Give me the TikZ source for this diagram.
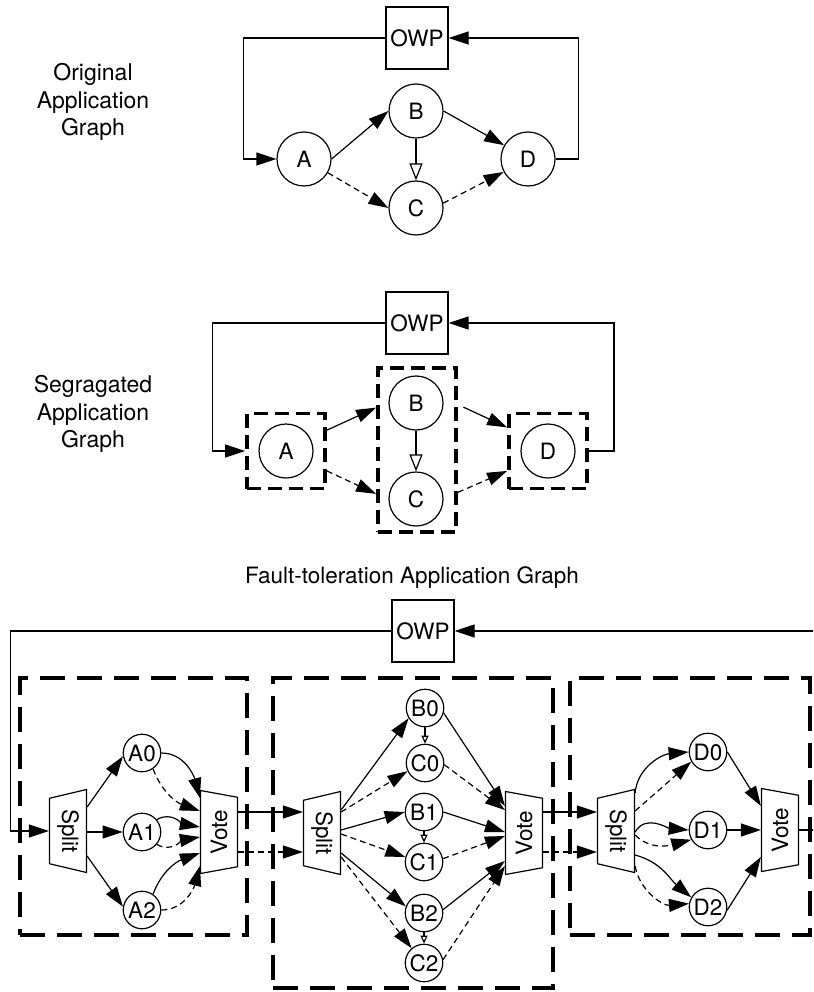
\documentclass[tikz,border=0pt]{standalone}
\usepackage{fontspec}
\setmainfont{TeX Gyre Heros}
\usetikzlibrary{arrows.meta,shapes.geometric}

\begin{document}
\begin{tikzpicture}[x=1pt,y=1pt,line width=1.2pt,font=\fontsize{22.5}{27.5}\selectfont]
	\tikzstyle{every node}+=[inner sep=0pt]
	\tikzstyle{arr}=[-{Triangle[length=20pt,width=13pt]}]
	\tikzstyle{darr}=[arr,dash pattern=on 6pt off 4pt]
	\tikzstyle{oarr}=[-{Triangle[open,length=17pt,width=13pt]}]
	\tikzstyle{soarr}=[-{Triangle[open,length=8pt,width=7pt]}]
	\tikzstyle{bigstate}=[draw,circle,minimum size=54pt]
	\tikzstyle{state}=[draw,circle,minimum size=37.5pt]
	\tikzstyle{owp}=[draw,minimum size=62pt]
	\tikzstyle{caption}=[align=center,font=\fontsize{23}{27.5}\selectfont]
	\tikzstyle{segbox}=[draw,line width=3.8pt,dash pattern=on 14pt off 7pt]
	\tikzstyle{ftbox}=[draw,line width=3.8pt,dash pattern=on 25pt off 12pt]
	\tikzstyle{trap}=[draw,trapezium,trapezium angle=68,trapezium stretches body,minimum width=83pt,minimum height=37pt,shape border rotate=180]
	\tikzstyle{splitter}=[trap,rotate=-90]
	\tikzstyle{voter}=[trap,rotate=90]
	\useasboundingbox (0,0) rectangle (813,-992);
	\clip (0,0) rectangle (813,-992);

	\node[caption] (lblorig) at (93,-102) {Original\\Application\\Graph};
	\node[owp] (owp1) at (417,-38) {OWP};
	\node[bigstate] (a1) at (304,-159) {A};
	\node[bigstate] (b1) at (416,-111) {B};
	\node[bigstate] (c1) at (416,-208) {C};
	\node[bigstate] (d1) at (528,-159) {D};
	\draw[arr] (owp1.west) -- ++(-142,0) |- (a1.west);
	\draw[arr] (a1.east) -- (b1.west);
	\draw[darr] (a1.-30) -- (c1.west);
	\draw[arr] (b1.east) -- (d1.150);
	\draw[darr] (c1.10) -- (d1.208);
	\draw[oarr] (b1.south) -- (c1.north);
	\draw[arr] (d1.east) -- ++(23,0) |- (owp1.east);

	\node[caption] (lblseg) at (93,-414) {Segragated\\Application\\Graph};
	\node[owp] (owp2) at (417,-323) {OWP};
	\node[segbox,minimum width=78pt,minimum height=75pt] (sa) at (286,-451) {};
	\node[segbox,minimum width=78pt,minimum height=164pt] (sb) at (417,-450) {};
	\node[segbox,minimum width=78pt,minimum height=75pt] (sd) at (548,-451) {};
	\node[bigstate] (a2) at (286,-451) {A};
	\node[bigstate] (b2) at (416,-403) {B};
	\node[bigstate] (c2) at (416,-499) {C};
	\node[bigstate] (d2) at (548,-451) {D};
	\draw[arr] (owp2.west) -- ++(-173,0) |- (sa.west);
	\draw[arr] (sa.27) -- (sb.134);
	\draw[darr] (sa.-26) -- (sb.227);
	\draw[arr,shorten <=6pt] (sb.48) -- (sd.150);
	\draw[darr] (sb.-46) -- (sd.206);
	\draw[oarr] (b2.south) -- (c2.north);
	\draw[arr] (sd.east) -- ++(25,0) |- (owp2.east);

	\node (lblft) at (412,-578) {Fault-toleration Application Graph};
	\node[owp] (owp3) at (423,-631) {OWP};
	\node[ftbox,minimum width=227pt,minimum height=257pt] (fa) at (133.5,-806.5) {};
	\node[ftbox,minimum width=280pt,minimum height=310pt] (fb) at (413,-833) {};
	\node[ftbox,minimum width=240pt,minimum height=257pt] (fd) at (690,-806.5) {};

	\node[splitter] (spa) at (68,-831) {Split};
	\node[voter] (vta) at (219,-832) {Vote};
	\node[state] (a0) at (142,-753) {A0};
	\node[state] (a1) at (142,-832) {A1};
	\node[state] (a2) at (142,-910) {A2};
	\draw[arr] (owp3.west) -- ++(-381,0) |- (spa.south);
	\draw[arr] (spa.north |- 0,-807) -- (a0.190);
	\draw[arr] (spa.north |- a1.west) -- (a1.west);
	\draw[arr] (spa.north |- 0,-856) -- (a2.170);
	\draw[arr] (a0.east) to[out=0,in=105] (vta.north |- 0,-798);
	\draw[darr] (a0.-55) to[out=-70,in=160] (vta.north |- 0,-811);
	\draw[arr] (a1.40) to[out=30,in=170] (vta.north |- 0,-827);
	\draw[darr] (a1.-40) to[out=-30,in=190] (vta.north |- 0,-837);
	\draw[arr] (a2.55) to[out=70,in=200] (vta.north |- 0,-853);
	\draw[darr] (a2.east) to[out=0,in=-105] (vta.north |- 0,-866);

	\node[splitter] (spb) at (322,-833) {Split};
	\node[voter] (vtb) at (524,-833) {Vote};
	\node[state] (b0) at (425,-708) {B0};
	\node[state] (c0) at (425,-763) {C0};
	\node[state] (b1) at (424,-812) {B1};
	\node[state] (c1) at (424,-862) {C1};
	\node[state] (b2) at (424,-913) {B2};
	\node[state] (c2) at (424,-963) {C2};
	\draw[arr] (vta.south |- 0,-812) -- (spb.south |- 0,-812);
	\draw[darr] (vta.south |- 0,-852) -- (spb.south |- 0,-852);
	\draw[arr] (spb.north |- 0,-810) -- (b0.212);
	\draw[darr] (spb.north |- 0,-812) -- (c0.205);
	\draw[arr] (spb.north |- 0,-830) -- (b1.west);
	\draw[darr] (spb.north |- 0,-834) -- (c1.165);
	\draw[arr] (spb.north |- 0,-853) -- (b2.160);
	\draw[darr] (spb.north |- 0,-857) -- (c2.130);
	\draw[soarr] (b0.south) -- (c0.north);
	\draw[soarr] (b1.south) -- (c1.north);
	\draw[soarr] (b2.south) -- (c2.north);
	\draw[arr] (b0.-15) -- (vtb.north |- 0,-806);
	\draw[darr] (c0.-5) -- (vtb.north |- 0,-810);
	\draw[arr] (b1.east) -- (vtb.north |- 0,-832);
	\draw[darr] (c1.10) -- (vtb.north |- 0,-836);
	\draw[arr] (b2.10) -- (vtb.north |- 0,-861);
	\draw[darr] (c2.10) -- (vtb.north |- 0,-866);

	\node[splitter] (spd) at (616,-831) {Split};
	\node[voter] (vtd) at (780,-830) {Vote};
	\node[state] (d0) at (708,-752) {D0};
	\node[state] (d1) at (708,-830) {D1};
	\node[state] (d2) at (708,-907) {D2};
	\draw[arr] (vtb.south |- 0,-812) -- (spd.south |- 0,-812);
	\draw[darr] (vtb.south |- 0,-852) -- (spd.south |- 0,-852);
	\draw[arr] (spd.north |- 0,-793) to[out=85,in=185] (d0.west);
	\draw[darr] (spd.north |- 0,-811) -- (d0.210);
	\draw[arr] (spd.north |- 0,-832) to[out=60,in=175] (d1.west);
	\draw[darr] (spd.north |- 0,-835) to[out=-45,in=195] (d1.210);
	\draw[arr] (spd.north |- 0,-855) to[out=-15,in=140] (d2.150);
	\draw[darr] (spd.north |- 0,-866) to[out=-80,in=185] (d2.170);
	\draw[arr] (d0.east) -- (vtd.north |- 0,-806);
	\draw[arr] (d1.east) -- (vtd.north |- d1.east);
	\draw[arr] (d2.-10) -- (vtd.north |- 0,-857);
	\draw[arr] (vtd.south) -- ++(40,0) |- (owp3.east);
\end{tikzpicture}
\end{document}
